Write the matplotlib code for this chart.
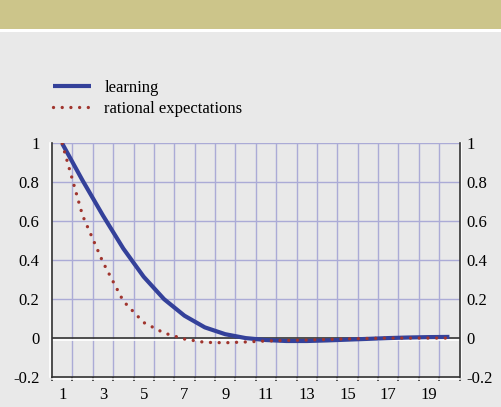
import numpy as np
import matplotlib.pyplot as plt
import matplotlib.patheffects as pe
from matplotlib.patches import Rectangle

# periods after the shock
periods = list(range(1, 21))

# response under learning
learning = [1.0, 0.81, 0.63, 0.46, 0.315, 0.20, 0.115, 0.055, 0.02, 0.0,
            -0.01, -0.015, -0.015, -0.012, -0.008, -0.004, 0.0, 0.003, 0.005, 0.006]

# response under rational expectations
rational = [1.0, 0.63, 0.39, 0.19, 0.08, 0.026, -0.005, -0.022, -0.024, -0.02,
            -0.015, -0.012, -0.01, -0.007, -0.004, -0.002, 0.0, 0.0, 0.0, 0.0]

y_ticks = [-0.2, 0, 0.2, 0.4, 0.6, 0.8, 1]
y_labels = ['-0.2', '0', '0.2', '0.4', '0.6', '0.8', '1']
x_labels = [1, 3, 5, 7, 9, 11, 13, 15, 17, 19]

bg = '#E9E9E9'
grid_col = '#ABABD6'
dark = '#333333'
serif = 'Liberation Serif'
fs = 12

fig = plt.figure(figsize=(5.01, 4.07), dpi=100, facecolor=bg)

# banner at the top
fig.patches.append(Rectangle((0, 1 - 29 / 407), 1, 29 / 407, transform=fig.transFigure,
                             facecolor='#CCC58A', edgecolor='none', zorder=0))
fig.patches.append(Rectangle((0, 1 - 32 / 407), 1, 3 / 407, transform=fig.transFigure,
                             facecolor='white', edgecolor='none', zorder=0))

ax = fig.add_axes([52 / 501, 1 - 377 / 407, 407.6 / 501, 233.5 / 407])
ax.set_facecolor(bg)

ax.set_xlim(0.5, 20.5)
ax.set_ylim(-0.2, 1.0)

# grid
for v in [0.2, 0.4, 0.6, 0.8, 1.0]:
    ax.axhline(v, color=grid_col, lw=1, zorder=1)
for b in np.arange(1.5, 20.5, 1):
    ax.axvline(b, color=grid_col, lw=1, zorder=1)

shadow_down = [pe.SimpleLineShadow(offset=(0, -1.2), shadow_color='white', alpha=1), pe.Normal()]
shadow_left = [pe.SimpleLineShadow(offset=(-1.2, 0), shadow_color='white', alpha=1), pe.Normal()]
shadow_right = [pe.SimpleLineShadow(offset=(1.2, 0), shadow_color='white', alpha=1), pe.Normal()]

ax.axhline(0, color=dark, lw=1.2, zorder=2, path_effects=shadow_down)

ax.plot(periods, learning, color='#34419A', lw=3, solid_capstyle='butt',
        zorder=3, label='learning')
ax.plot(periods, rational, color='#A0352E', lw=2.4, linestyle=(0, (0.01, 2.6)),
        dash_capstyle='round', zorder=4, label='rational expectations')

ax.spines['top'].set_visible(False)
ax.spines['right'].set_visible(False)
for s, eff in [('left', shadow_left), ('bottom', shadow_down)]:
    ax.spines[s].set_color(dark)
    ax.spines[s].set_linewidth(1.2)
    ax.spines[s].set_path_effects(eff)

ax.set_yticks(y_ticks)
ax.set_yticklabels(y_labels, fontfamily=serif, fontsize=fs)
ax.tick_params(axis='y', length=0, pad=9)

ax.set_xticks(x_labels)
ax.set_xticklabels([str(v) for v in x_labels], fontfamily=serif, fontsize=fs)
ax.set_xticks(np.arange(0.5, 21, 1), minor=True)
ax.tick_params(axis='x', which='major', length=0, pad=7)
ax.tick_params(axis='x', which='minor', length=3, width=1.2, color=dark, direction='out')

# right-hand axis repeats the scale
ax2 = ax.twinx()
ax2.set_ylim(-0.2, 1.0)
ax2.set_yticks(y_ticks)
ax2.set_yticklabels(y_labels, fontfamily=serif, fontsize=fs)
ax2.tick_params(axis='y', length=0, pad=5)
for s in ['top', 'left', 'bottom']:
    ax2.spines[s].set_visible(False)
ax2.spines['right'].set_color(dark)
ax2.spines['right'].set_linewidth(1.2)
ax2.spines['right'].set_path_effects(shadow_right)

ax.legend(loc='lower left', bbox_to_anchor=(-0.015, 1.085), frameon=False,
          prop={'family': serif, 'size': fs}, handlelength=2.3, handletextpad=0.8,
          labelspacing=0.3, borderaxespad=0)

fig.savefig('out.png', dpi=100, facecolor=bg)
